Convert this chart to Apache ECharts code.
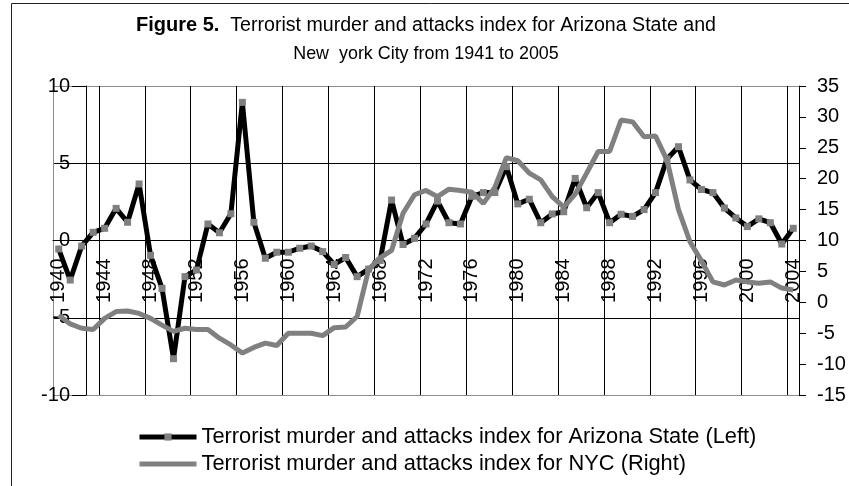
<!DOCTYPE html>
<html>
<head>
<meta charset="utf-8">
<script src="https://cdn.jsdelivr.net/npm/echarts@6/dist/echarts.min.js"></script>
<style>
html,body{margin:0;padding:0;background:#fff;}
#chart{width:849px;height:486px;}
</style>
</head>
<body>
<div id="chart"></div>
<script>
var years = ['1940','1941','1942','1943','1944','1945','1946','1947','1948','1949',
  '1950','1951','1952','1953','1954','1955','1956','1957','1958','1959',
  '1960','1961','1962','1963','1964','1965','1966','1967','1968','1969',
  '1970','1971','1972','1973','1974','1975','1976','1977','1978','1979',
  '1980','1981','1982','1983','1984','1985','1986','1987','1988','1989',
  '1990','1991','1992','1993','1994','1995','1996','1997','1998','1999',
  '2000','2001','2002','2003','2004'];

var arizona = [-0.55,-2.56,-0.36,0.53,0.79,2.08,1.18,3.66,-0.96,-3.1,
  -7.65,-2.34,-1.91,1.07,0.5,1.73,8.94,1.18,-1.15,-0.76,
  -0.76,-0.5,-0.36,-0.72,-1.55,-1.1,-2.34,-1.85,-1.3,2.62,
  -0.26,0.14,1.07,2.55,1.15,1.07,2.86,3.1,3.1,4.78,
  2.37,2.67,1.15,1.72,1.86,4.02,2.12,3.1,1.15,1.7,
  1.56,2.0,3.1,5.28,6.07,3.92,3.3,3.1,2.1,1.46,
  0.9,1.4,1.15,-0.23,0.79];

var nyc = [-2.1,-3.5,-4.2,-4.4,-2.6,-1.5,-1.4,-1.8,-2.6,-3.7,
  -4.7,-4.2,-4.4,-4.4,-5.8,-6.9,-8.2,-7.3,-6.6,-7.0,
  -5.0,-5.0,-5.0,-5.4,-4.1,-4.0,-2.3,5.3,7.2,8.4,
  14.4,17.4,18.1,17.1,18.3,18.1,17.8,16.0,18.6,23.4,
  22.9,20.9,19.8,17.1,15.4,17.5,20.9,24.4,24.4,29.5,
  29.2,26.8,26.9,23.0,15.0,9.8,6.7,3.3,2.8,3.6,
  3.3,3.1,3.3,2.3,2.0];

var leftTicks = {min: -10, max: 10, interval: 5};
var rightTicks = {min: -15, max: 35, interval: 5};

var seriesNames = ['Terrorist murder and attacks index for Arizona State (Left)',
                   'Terrorist murder and attacks index for NYC (Right)'];

var FONT = 'Liberation Sans, Arial, sans-serif';

var chart = echarts.init(document.getElementById('chart'));
var xSplitColors = ['#8c8c8c'];
for (var k = 0; k < 16; k++) xSplitColors.push('#000');

chart.setOption({
  animation: false,
  backgroundColor: '#fff',
  textStyle: {fontFamily: FONT},
  title: {
    text: '{b|Figure 5.}{n|  Terrorist murder and attacks index for Arizona State and}\n{m|New  york City from 1941 to 2005}',
    left: 421,
    textAlign: 'center',
    top: 6,
    textStyle: {
      fontWeight: 'normal',
      rich: {
        b: {fontFamily: FONT, fontSize: 20, fontWeight: 'bold', color: '#000', lineHeight: 29},
        n: {fontFamily: FONT, fontSize: 19.6, fontWeight: 'normal', color: '#000', lineHeight: 29},
        m: {fontFamily: FONT, fontSize: 17.9, fontWeight: 'normal', color: '#000', lineHeight: 29}
      }
    }
  },
  legend: {
    orient: 'vertical',
    left: 132,
    top: 421,
    itemWidth: 57,
    itemHeight: 9,
    itemGap: 5,
    lineStyle: {width: 5},
    textStyle: {fontFamily: FONT, fontSize: 21.8, color: '#000', lineHeight: 22},
    data: [
      {name: seriesNames[0]},
      {name: seriesNames[1], itemStyle: {color: 'rgba(0,0,0,0)', borderWidth: 0, opacity: 0}}
    ]
  },
  graphic: [
    {type: 'line', shape: {x1: 11.5, y1: 3.5, x2: 11.5, y2: 486}, style: {stroke: '#222', lineWidth: 1}},
    {type: 'line', shape: {x1: 11.5, y1: 3.5, x2: 849, y2: 3.5}, style: {stroke: '#222', lineWidth: 1}}
  ],
  grid: {left: 53, right: 50, top: 86, bottom: 91, containLabel: false},
  xAxis: {
    type: 'category',
    data: years,
    boundaryGap: true,
    position: 'bottom',
    offset: -154.5,
    axisLine: {show: true, onZero: false, lineStyle: {color: '#000', width: 1}},
    axisTick: {show: false, interval: 3},
    axisLabel: {interval: 3, rotate: 90, margin: 18, fontSize: 20, color: '#000', fontFamily: FONT},
    splitLine: {show: true, interval: 3, lineStyle: {color: xSplitColors, width: 1}}
  },
  yAxis: [
    {
      type: 'value',
      position: 'left',
      offset: -33,
      min: leftTicks.min, max: leftTicks.max, interval: leftTicks.interval,
      axisLine: {show: true, lineStyle: {color: '#000', width: 1}},
      axisTick: {show: true, length: 14, lineStyle: {color: '#000'}},
      axisLabel: {margin: 16, fontSize: 20, color: '#000', fontFamily: FONT},
      splitLine: {show: true, lineStyle: {color: ['#8c8c8c', '#000', '#000', '#000', '#8c8c8c'], width: 1}}
    },
    {
      type: 'value',
      position: 'right',
      min: rightTicks.min, max: rightTicks.max, interval: rightTicks.interval,
      axisLine: {show: true, lineStyle: {color: '#000', width: 1}},
      axisTick: {show: true, length: 7, lineStyle: {color: '#000'}},
      axisLabel: {margin: 18, fontSize: 20, color: '#000', fontFamily: FONT},
      splitLine: {show: false}
    }
  ],
  series: [
    {
      name: seriesNames[0],
      type: 'line',
      yAxisIndex: 0,
      data: arizona,
      symbol: 'rect',
      symbolSize: 7,
      showAllSymbol: true,
      itemStyle: {color: '#808080'},
      lineStyle: {color: '#000', width: 5},
      z: 3
    },
    {
      name: seriesNames[1],
      type: 'line',
      yAxisIndex: 1,
      data: nyc,
      symbol: 'none',
      itemStyle: {color: '#808080'},
      lineStyle: {color: '#808080', width: 5},
      z: 4
    }
  ]
});
</script>
</body>
</html>
